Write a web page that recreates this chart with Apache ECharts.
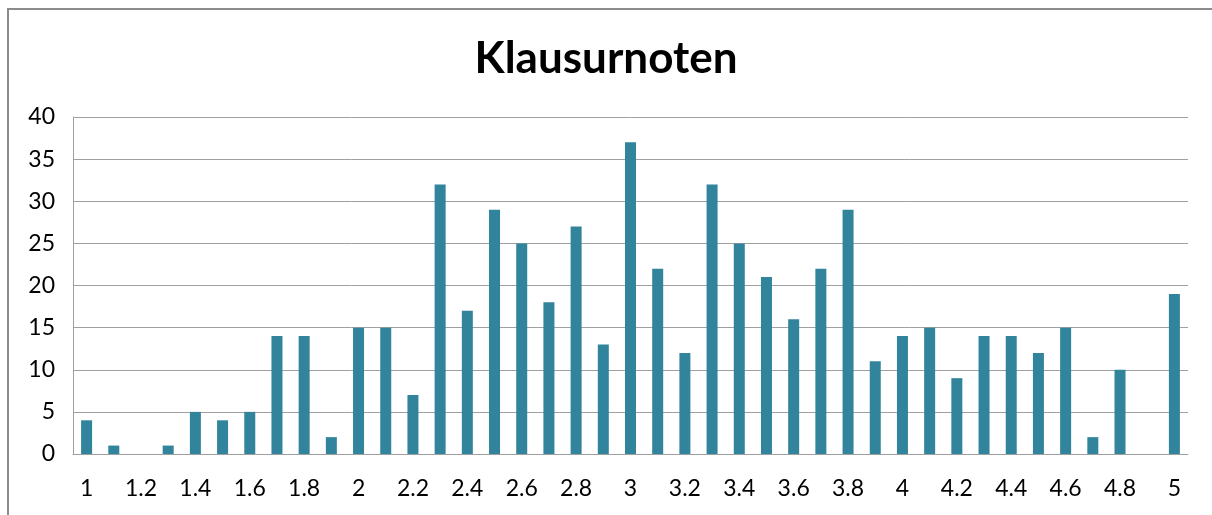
<!DOCTYPE html>
<html>
<head>
<meta charset="utf-8">
<script src="https://cdn.jsdelivr.net/npm/echarts@6/dist/echarts.min.js"></script>
<style>
	html, body { margin: 0; padding: 0; background: #fff; overflow: hidden; }
	#frame { position: absolute; left: 7px; top: 8px; width: 1300px; height: 600px; border: 2px solid #8c8c8c; }
	#chart { position: absolute; left: 0; top: 0; width: 1212px; height: 515px; }
</style>
</head>
<body>
<div id="frame"></div>
<div id="chart"></div>
<script>
// Noten (categories) and how many exams got each grade
var grades = ['1', '1.1', '1.2', '1.3', '1.4', '1.5', '1.6', '1.7', '1.8', '1.9',
	'2', '2.1', '2.2', '2.3', '2.4', '2.5', '2.6', '2.7', '2.8', '2.9',
	'3', '3.1', '3.2', '3.3', '3.4', '3.5', '3.6', '3.7', '3.8', '3.9',
	'4', '4.1', '4.2', '4.3', '4.4', '4.5', '4.6', '4.7', '4.8', '4.9', '5'];
var counts = [4, 1, 0, 1, 5, 4, 5, 14, 14, 2,
	15, 15, 7, 32, 17, 29, 25, 18, 27, 13,
	37, 22, 12, 32, 25, 21, 16, 22, 29, 11,
	14, 15, 9, 14, 14, 12, 15, 2, 10, 0, 19];
var yTicks = [0, 5, 10, 15, 20, 25, 30, 35, 40];

var font = 'Lato, "Open Sans", sans-serif';
var myChart = echarts.init(document.getElementById('chart'));
myChart.setOption({
	animation: false,
	title: {
		text: 'Klausurnoten',
		left: 'center',
		top: 32,
		textStyle: {
			fontFamily: font,
			fontSize: 44,
			fontWeight: 'bold',
			color: '#000'
		}
	},
	grid: {
		left: 73,
		right: 24,
		top: 117,
		bottom: 61,
		containLabel: false
	},
	xAxis: {
		type: 'category',
		data: grades,
		boundaryGap: true,
		axisLine: { lineStyle: { color: '#a0a0a0', width: 1 } },
		axisTick: { show: false },
		axisLabel: {
			interval: 1,
			margin: 23,
			fontFamily: font,
			fontSize: 23,
			color: '#000'
		}
	},
	yAxis: {
		type: 'value',
		min: yTicks[0],
		max: yTicks[yTicks.length - 1],
		interval: 5,
		axisLine: { show: true, lineStyle: { color: '#a0a0a0', width: 1 } },
		axisTick: { show: false },
		axisLabel: {
			margin: 18,
			fontFamily: font,
			fontSize: 23,
			color: '#000'
		},
		splitLine: { lineStyle: { color: '#a0a0a0', width: 1 } }
	},
	series: [
		{
			name: 'Anzahl',
			type: 'bar',
			data: counts,
			barWidth: 11,
			itemStyle: { color: '#31849b' }
		}
	]
});
</script>
</body>
</html>
